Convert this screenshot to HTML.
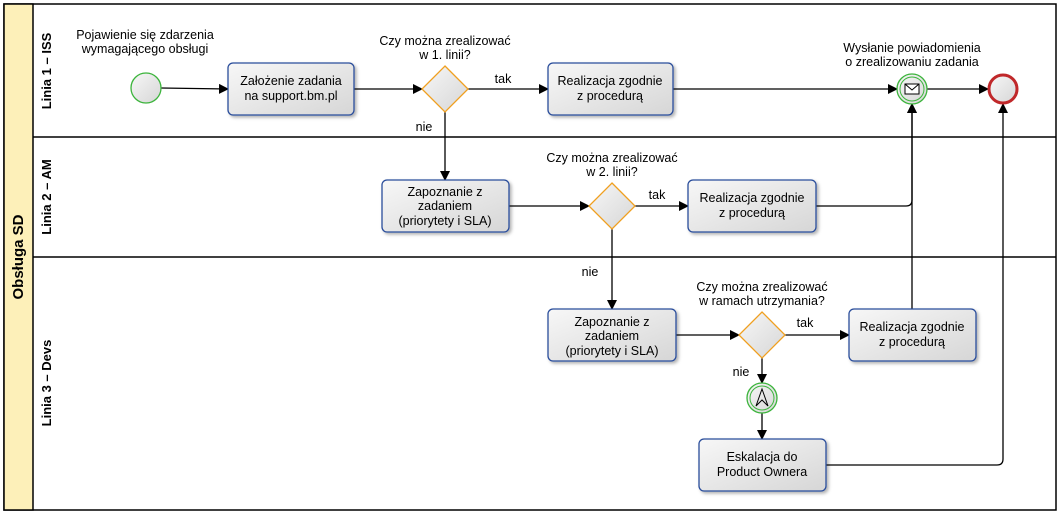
<!DOCTYPE html>
<html><head><meta charset="utf-8"><style>
html,body{margin:0;padding:0;background:#fff;}
svg{display:block;font-family:"Liberation Sans",sans-serif;}
</style></head><body>
<svg width="1060" height="515" viewBox="0 0 1060 515">
<defs>
<linearGradient id="g" x1="0" y1="0" x2="1" y2="1"><stop offset="0" stop-color="#f7f7f7"/><stop offset="1" stop-color="#d6d6d6"/></linearGradient>
<marker id="a" markerWidth="10" markerHeight="10" refX="9" refY="5" orient="auto" markerUnits="userSpaceOnUse"><path d="M0,0 L10,5 L0,10 z" fill="#000"/></marker>
<filter id="s" x="-10%" y="-10%" width="130%" height="130%"><feDropShadow dx="2" dy="2" stdDeviation="1.5" flood-color="#000" flood-opacity="0.3"/></filter>
</defs>
<rect x="4" y="4" width="1052" height="506" fill="#fff" stroke="#000" stroke-width="1.5"/>
<rect x="4" y="4" width="29" height="506" fill="#fdf0b9" stroke="#000" stroke-width="1.5"/>
<line x1="33" y1="137" x2="1056" y2="137" stroke="#000" stroke-width="1.5"/>
<line x1="33" y1="257" x2="1056" y2="257" stroke="#000" stroke-width="1.5"/>
<text transform="translate(23,257) rotate(-90)" text-anchor="middle" font-size="15" font-weight="bold">Obsługa SD</text>
<g font-size="13" font-weight="bold" text-anchor="middle">
<text transform="translate(51,71) rotate(-90)">Linia 1 – ISS</text>
<text transform="translate(51,197) rotate(-90)">Linia 2 – AM</text>
<text transform="translate(51,383) rotate(-90)">Linia 3 – Devs</text>
</g>
<g fill="none" stroke="#000" stroke-width="1.3">
<line x1="161" y1="88" x2="228" y2="89" marker-end="url(#a)"/>
<line x1="354" y1="89" x2="422" y2="89" marker-end="url(#a)"/>
<line x1="468" y1="89" x2="548" y2="89" marker-end="url(#a)"/>
<line x1="673" y1="89" x2="897" y2="89" marker-end="url(#a)"/>
<line x1="927" y1="89" x2="988" y2="89" marker-end="url(#a)"/>
<line x1="445" y1="112" x2="445" y2="180" marker-end="url(#a)"/>
<line x1="509" y1="206" x2="589" y2="206" marker-end="url(#a)"/>
<line x1="635" y1="206" x2="688" y2="206" marker-end="url(#a)"/>
<line x1="612" y1="229" x2="612" y2="309" marker-end="url(#a)"/>
<path d="M816,206 H906 Q912,206 912,200 V104" marker-end="url(#a)"/>
<line x1="912" y1="309" x2="912" y2="104" marker-end="url(#a)"/>
<line x1="676" y1="335" x2="739" y2="335" marker-end="url(#a)"/>
<line x1="785" y1="335" x2="849" y2="335" marker-end="url(#a)"/>
<line x1="762" y1="358" x2="762" y2="383" marker-end="url(#a)"/>
<line x1="762" y1="413" x2="762" y2="439" marker-end="url(#a)"/>
<path d="M826,465 H997 Q1003,465 1003,459 V104" marker-end="url(#a)"/>
</g>
<g fill="url(#g)" stroke="#2a4d9b" stroke-width="1.3" filter="url(#s)">
<rect x="228" y="63" width="126" height="52" rx="5"/>
<rect x="548" y="63" width="125" height="52" rx="5"/>
<rect x="382" y="180" width="127" height="52" rx="5"/>
<rect x="688" y="180" width="128" height="52" rx="5"/>
<rect x="548" y="309" width="128" height="52" rx="5"/>
<rect x="849" y="309" width="127" height="52" rx="5"/>
<rect x="699" y="439" width="127" height="52" rx="5"/>
</g>
<g fill="url(#g)" stroke="#f0a020" stroke-width="1.3">
<path d="M445,66 L468,89 L445,112 L422,89 z"/>
<path d="M612,183 L635,206 L612,229 L589,206 z"/>
<path d="M762,312 L785,335 L762,358 L739,335 z"/>
</g>
<circle cx="146" cy="88" r="15" fill="url(#g)" stroke="#3cb43c" stroke-width="1.3"/>
<circle cx="912" cy="89" r="15" fill="url(#g)" stroke="#3cb43c" stroke-width="1.3"/>
<circle cx="912" cy="89" r="12" fill="none" stroke="#3cb43c" stroke-width="1"/>
<rect x="905" y="84" width="14" height="10" fill="#fff" stroke="#000" stroke-width="1"/>
<path d="M905,84 L912,90 L919,84" fill="none" stroke="#000" stroke-width="1"/>
<circle cx="1003" cy="89" r="14" fill="url(#g)" stroke="#c0282a" stroke-width="3"/>
<circle cx="762" cy="398" r="15" fill="url(#g)" stroke="#3cb43c" stroke-width="1.3"/>
<circle cx="762" cy="398" r="12" fill="none" stroke="#3cb43c" stroke-width="1"/>
<path d="M762,389 L768,406 L762,400 L756,406 z" fill="none" stroke="#000" stroke-width="1"/>
<g font-size="12.5" text-anchor="middle" fill="#000">
<text x="145" y="39">Pojawienie się zdarzenia</text><text x="145" y="53">wymagającego obsługi</text>
<text x="291" y="85">Założenie zadania</text><text x="291" y="100">na support.bm.pl</text>
<text x="445" y="45">Czy można zrealizować</text><text x="445" y="59">w 1. linii?</text>
<text x="503" y="83">tak</text>
<text x="424" y="131">nie</text>
<text x="610" y="85">Realizacja zgodnie</text><text x="610" y="100">z procedurą</text>
<text x="912" y="52">Wysłanie powiadomienia</text><text x="912" y="66">o zrealizowaniu zadania</text>
<text x="445" y="196">Zapoznanie z</text><text x="445" y="210">zadaniem</text><text x="445" y="225">(priorytety i SLA)</text>
<text x="612" y="162">Czy można zrealizować</text><text x="612" y="176">w 2. linii?</text>
<text x="657" y="199">tak</text>
<text x="752" y="202">Realizacja zgodnie</text><text x="752" y="217">z procedurą</text>
<text x="590" y="276">nie</text>
<text x="612" y="326">Zapoznanie z</text><text x="612" y="340">zadaniem</text><text x="612" y="355">(priorytety i SLA)</text>
<text x="762" y="291">Czy można zrealizować</text><text x="762" y="305">w ramach utrzymania?</text>
<text x="805" y="327">tak</text>
<text x="741" y="376">nie</text>
<text x="912" y="331">Realizacja zgodnie</text><text x="912" y="346">z procedurą</text>
<text x="762" y="461">Eskalacja do</text><text x="762" y="476">Product Ownera</text>
</g>
</svg>
</body></html>
